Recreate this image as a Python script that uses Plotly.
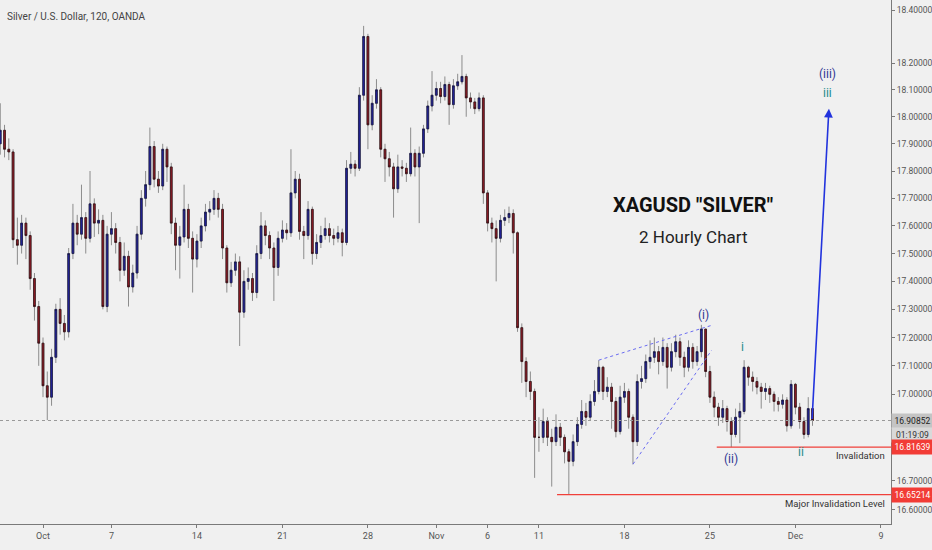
import numpy as np
import plotly.graph_objects as go

# 6 hour candles (4 per trading day)
first_open = 17.90
closes = [
    17.95, 17.88, 17.87, 17.55, 17.53, 17.61, 17.565, 17.41, 17.31, 17.18,
    17.03, 16.99, 17.13, 17.30, 17.25, 17.22, 17.50, 17.61, 17.57, 17.63,
    17.555, 17.68, 17.61, 17.62, 17.31, 17.57, 17.59, 17.54, 17.44, 17.49,
    17.38, 17.43, 17.57, 17.70, 17.75, 17.89, 17.77, 17.745, 17.88, 17.815,
    17.61, 17.53, 17.56, 17.66, 17.555, 17.48, 17.545, 17.60, 17.65, 17.66,
    17.70, 17.66, 17.52, 17.395, 17.44, 17.47, 17.29, 17.40, 17.41, 17.36,
    17.50, 17.60, 17.565, 17.52, 17.45, 17.555, 17.585, 17.575, 17.72, 17.77,
    17.58, 17.565, 17.66, 17.50, 17.54, 17.565, 17.59, 17.565, 17.555, 17.575,
    17.54, 17.81, 17.825, 17.81, 18.08, 18.30, 17.97, 18.05, 18.10, 17.88,
    17.845, 17.815, 17.735, 17.815, 17.81, 17.79, 17.865, 17.815, 17.865, 17.955,
    18.04, 18.08, 18.105, 18.075, 18.12, 18.045, 18.115, 18.13, 18.15, 18.07,
    18.055, 18.03, 18.07, 17.72, 17.61, 17.59, 17.555, 17.62, 17.63, 17.645,
    17.575, 17.235, 17.115, 17.045, 17.01, 16.85, 16.85, 16.905, 16.85, 16.835,
    16.885, 16.85, 16.80, 16.767, 16.835, 16.895, 16.94, 16.92, 16.975, 17.01,
    17.095, 17.01, 17.025, 16.975, 16.87, 16.99, 17.01, 16.92, 16.835, 17.045,
    17.055, 17.115, 17.13, 17.15, 17.115, 17.165, 17.095, 17.15, 17.185, 17.13,
    17.095, 17.165, 17.115, 17.15, 17.23, 17.08, 16.99, 16.955, 16.92, 16.95,
    16.905, 16.86, 16.92, 16.94, 17.095, 17.06, 17.045, 17.025, 17.01, 17.02,
    17.00, 16.975, 16.965, 16.98, 16.89, 17.035, 16.955, 16.905, 16.86, 16.95,
    16.90852,
]
highs = [
    18.05, 17.97, 17.92, 17.88, 17.63, 17.64, 17.63, 17.58, 17.43, 17.33,
    17.20, 17.08, 17.16, 17.32, 17.34, 17.28, 17.52, 17.68, 17.64, 17.75,
    17.65, 17.80, 17.70, 17.66, 17.64, 17.60, 17.65, 17.61, 17.56, 17.54,
    17.51, 17.46, 17.60, 17.73, 17.80, 17.96, 17.91, 17.80, 17.90, 17.89,
    17.83, 17.63, 17.60, 17.75, 17.68, 17.58, 17.57, 17.63, 17.68, 17.69,
    17.73, 17.72, 17.68, 17.53, 17.47, 17.50, 17.49, 17.44, 17.45, 17.43,
    17.53, 17.65, 17.62, 17.58, 17.54, 17.58, 17.62, 17.61, 17.88, 17.80,
    17.79, 17.60, 17.69, 17.67, 17.57, 17.60, 17.63, 17.61, 17.59, 17.60,
    17.59, 17.84, 17.87, 17.84, 18.11, 18.34, 18.31, 18.08, 18.14, 18.11,
    17.90, 17.87, 17.83, 17.86, 17.84, 17.83, 17.96, 17.88, 17.89, 17.97,
    18.06, 18.17, 18.13, 18.13, 18.15, 18.13, 18.14, 18.16, 18.23, 18.16,
    18.09, 18.07, 18.09, 18.08, 17.73, 17.63, 17.62, 17.64, 17.66, 17.67,
    17.66, 17.58, 17.25, 17.13, 17.08, 17.02, 16.92, 16.95, 16.92, 16.88,
    16.93, 16.90, 16.86, 16.81, 16.86, 16.92, 16.98, 16.97, 17.00, 17.05,
    17.12, 17.10, 17.06, 17.04, 16.99, 17.03, 17.04, 17.02, 16.93, 17.07,
    17.10, 17.14, 17.19, 17.20, 17.17, 17.20, 17.18, 17.18, 17.21, 17.20,
    17.15, 17.19, 17.18, 17.17, 17.245, 17.23, 17.10, 17.01, 16.97, 16.98,
    16.96, 16.92, 16.95, 16.97, 17.12, 17.10, 17.08, 17.06, 17.04, 17.04,
    17.03, 17.01, 16.99, 17.00, 16.99, 17.05, 17.04, 16.97, 16.92, 16.99,
    16.96,
]
lows = [
    17.86, 17.85, 17.84, 17.52, 17.46, 17.50, 17.48, 17.37, 17.26, 17.10,
    16.99, 16.91, 16.96, 17.11, 17.21, 17.19, 17.20, 17.48, 17.53, 17.55,
    17.50, 17.54, 17.56, 17.57, 17.30, 17.29, 17.53, 17.50, 17.40, 17.42,
    17.31, 17.36, 17.41, 17.55, 17.67, 17.73, 17.74, 17.72, 17.73, 17.76,
    17.57, 17.44, 17.41, 17.54, 17.52, 17.36, 17.45, 17.52, 17.58, 17.62,
    17.64, 17.63, 17.48, 17.36, 17.38, 17.42, 17.17, 17.27, 17.37, 17.33,
    17.34, 17.48, 17.53, 17.48, 17.33, 17.42, 17.54, 17.55, 17.56, 17.70,
    17.55, 17.48, 17.55, 17.46, 17.48, 17.52, 17.55, 17.54, 17.53, 17.54,
    17.49, 17.53, 17.79, 17.78, 17.80, 18.06, 17.88, 17.95, 18.03, 17.85,
    17.76, 17.78, 17.63, 17.72, 17.78, 17.76, 17.78, 17.78, 17.61, 17.85,
    17.94, 18.02, 18.06, 18.05, 18.06, 17.97, 18.03, 18.10, 18.12, 18.00,
    18.03, 18.01, 18.02, 17.68, 17.58, 17.54, 17.40, 17.54, 17.60, 17.61,
    17.50, 17.22, 17.04, 16.99, 16.98, 16.71, 16.80, 16.83, 16.82, 16.68,
    16.82, 16.82, 16.76, 16.652, 16.75, 16.82, 16.88, 16.89, 16.91, 16.96,
    17.00, 16.98, 16.99, 16.88, 16.85, 16.86, 16.97, 16.88, 16.757, 16.82,
    17.02, 17.04, 17.09, 17.11, 17.07, 17.10, 17.02, 17.08, 17.13, 17.10,
    17.06, 17.08, 17.09, 17.10, 17.13, 17.06, 16.97, 16.92, 16.89, 16.90,
    16.87, 16.816, 16.85, 16.83, 16.93, 17.03, 17.01, 17.00, 16.95, 16.98,
    16.97, 16.94, 16.94, 16.95, 16.87, 16.88, 16.93, 16.88, 16.845, 16.85,
    16.89,
]

# x is counted in trading days from Thu 26 Sep 2019 (weekends removed, like TradingView)
bars_per_day = 4
start_day = 0.5
tick_days = [3, 7, 12, 17, 22, 26, 29, 32, 37, 42, 47, 52]
tick_labels = ["Oct", "7", "14", "21", "28", "Nov", "6", "11", "18", "25", "Dec", "9"]
price_ticks = [16.6, 16.7, 17.0, 17.1, 17.2, 17.3, 17.4, 17.5, 17.6, 17.7,
               17.8, 17.9, 18.0, 18.1, 18.2, 18.4]

last_price = 16.90852
invalidation = 16.81639
major_invalidation = 16.65214
countdown = "01:19:09"

# wedge of wave (i): [day, price] end points
wedge_upper = ([35.5, 42.2], [17.12, 17.245])
wedge_lower = ([37.5, 42.1], [16.757, 17.155])
arrow_start = (47.97, 16.9085)
arrow_end = (48.96, 18.03)

# wave labels: text, day, price, colour
navy = "#2e3592"
teal = "#1c8d8a"
wave_labels = [
    ("(i)", 41.6, 17.28, navy),
    ("(ii)", 43.25, 16.775, navy),
    ("i", 43.9, 17.165, teal),
    ("ii", 47.3, 16.80, teal),
    ("(iii)", 48.85, 18.16, navy),
    ("iii", 48.85, 18.09, teal),
]

x_range = [0.485, 52.59]
y_range = [np.log10(16.552), np.log10(18.438)]

days = start_day + np.arange(len(closes)) / bars_per_day
opens = [first_open] + closes[:-1]
body_top = np.maximum(opens, closes)
body_bot = np.minimum(opens, closes)

font = "Roboto, Liberation Sans, sans-serif"
bg = "#f0f0f0"

fig = go.Figure()

# gray wicks
fig.add_trace(go.Candlestick(
    x=days, open=opens, high=highs, low=lows, close=closes,
    increasing=dict(line=dict(color="#8c8c8c", width=1), fillcolor="#8c8c8c"),
    decreasing=dict(line=dict(color="#8c8c8c", width=1), fillcolor="#8c8c8c"),
    whiskerwidth=0, hoverinfo="skip",
))
# coloured bodies with dark border
fig.add_trace(go.Candlestick(
    x=days, open=opens, high=body_top, low=body_bot, close=closes,
    increasing=dict(line=dict(color="#14143c", width=0.7), fillcolor="#2424a0"),
    decreasing=dict(line=dict(color="#2a0c10", width=0.7), fillcolor="#951d28"),
    whiskerwidth=0,
))

# last price dotted line
fig.add_trace(go.Scatter(
    x=x_range, y=[last_price, last_price], mode="lines",
    line=dict(color="#9a9a9a", width=1, dash="dot"), hoverinfo="skip",
))
# invalidation levels
fig.add_trace(go.Scatter(
    x=[42.4, x_range[1]], y=[invalidation, invalidation], mode="lines",
    line=dict(color="#f0403a", width=1.3), hoverinfo="skip",
))
fig.add_trace(go.Scatter(
    x=[33.06, x_range[1]], y=[major_invalidation, major_invalidation], mode="lines",
    line=dict(color="#f0403a", width=1.3), hoverinfo="skip",
))
# wedge lines
for xs, ys in (wedge_upper, wedge_lower):
    fig.add_trace(go.Scatter(
        x=xs, y=ys, mode="lines",
        line=dict(color="#6a6cf0", width=1, dash="dot"), hoverinfo="skip",
    ))

annotations = []
for text, d, p, col in wave_labels:
    annotations.append(dict(
        x=d, y=np.log10(p), xref="x", yref="y", text=text, showarrow=False,
        font=dict(family=font, size=12, color=col),
    ))

# projected wave (iii) arrow
annotations.append(dict(
    x=arrow_end[0], y=np.log10(arrow_end[1]), ax=arrow_start[0], ay=np.log10(arrow_start[1]),
    xref="x", yref="y", axref="x", ayref="y", text="", showarrow=True,
    arrowhead=2, arrowsize=1.1, arrowwidth=1.6, arrowcolor="#2233dd",
))

annotations += [
    dict(x=0.778, y=0.608, xref="paper", yref="paper", text='<b>XAGUSD "SILVER"</b>',
         showarrow=False, xanchor="center", yanchor="middle",
         font=dict(family=font, size=20, color="#111")),
    dict(x=0.778, y=0.547, xref="paper", yref="paper", text="2 Hourly Chart",
         showarrow=False, xanchor="center", yanchor="middle",
         font=dict(family=font, size=17, color="#222")),
    dict(x=0.006, y=0.968, xref="paper", yref="paper", text="Silver / U.S. Dollar, 120, OANDA",
         showarrow=False, xanchor="left", yanchor="middle",
         font=dict(family=font, size=10, color="#444")),
    dict(x=0.996, y=np.log10(invalidation), xref="paper", yref="y", text="Invalidation",
         showarrow=False, xanchor="right", yanchor="top", yshift=-1,
         font=dict(family=font, size=9.5, color="#333")),
    dict(x=0.996, y=np.log10(major_invalidation), xref="paper", yref="y",
         text="Major Invalidation Level", showarrow=False, xanchor="right", yanchor="top",
         yshift=-1, font=dict(family=font, size=9.5, color="#333")),
]

# price boxes on the axis
for val, text, col, fcol, shift in [
    (last_price, f"{last_price:.5f}", "#c4c4c4", "#222", 0),
    (last_price, countdown, "#d9d9d9", "#333", -14),
    (invalidation, f"{invalidation:.5f}", "#f23c36", "#fff", 0),
    (major_invalidation, f"{major_invalidation:.5f}", "#f23c36", "#fff", 0),
]:
    annotations.append(dict(
        x=1, y=np.log10(val), xref="paper", yref="y", text=text, showarrow=False,
        xanchor="left", yanchor="middle", yshift=shift, width=39, height=12, align="center",
        bgcolor=col, borderpad=1, font=dict(family=font, size=8.5, color=fcol),
    ))

fig.update_layout(
    width=932, height=550,
    margin=dict(l=0, r=41, t=0, b=26),
    paper_bgcolor=bg, plot_bgcolor=bg,
    showlegend=False,
    boxgap=0.4,
    annotations=annotations,
    font=dict(family=font, size=9, color="#555"),
    xaxis=dict(
        range=x_range, tickvals=tick_days, ticktext=tick_labels,
        showgrid=False, zeroline=False, showline=True, linecolor="#7a7a7a",
        ticks="outside", ticklen=3, tickcolor="#7a7a7a",
        rangeslider=dict(visible=False), fixedrange=True,
        tickfont=dict(family=font, size=9, color="#555"),
    ),
    yaxis=dict(
        type="log", range=y_range, side="right",
        tickvals=price_ticks, ticktext=[f"{v:.5f}" for v in price_ticks],
        showgrid=False, zeroline=False, showline=True, linecolor="#7a7a7a",
        ticks="outside", ticklen=3, tickcolor="#7a7a7a",
        tickfont=dict(family=font, size=8.5, color="#555"),
    ),
)

# the page body has a default 8px margin; drop it so the figure sits at the corner
fig.write_html("out.html", config={"displayModeBar": False},
               post_script="document.body.style.margin='0';")
